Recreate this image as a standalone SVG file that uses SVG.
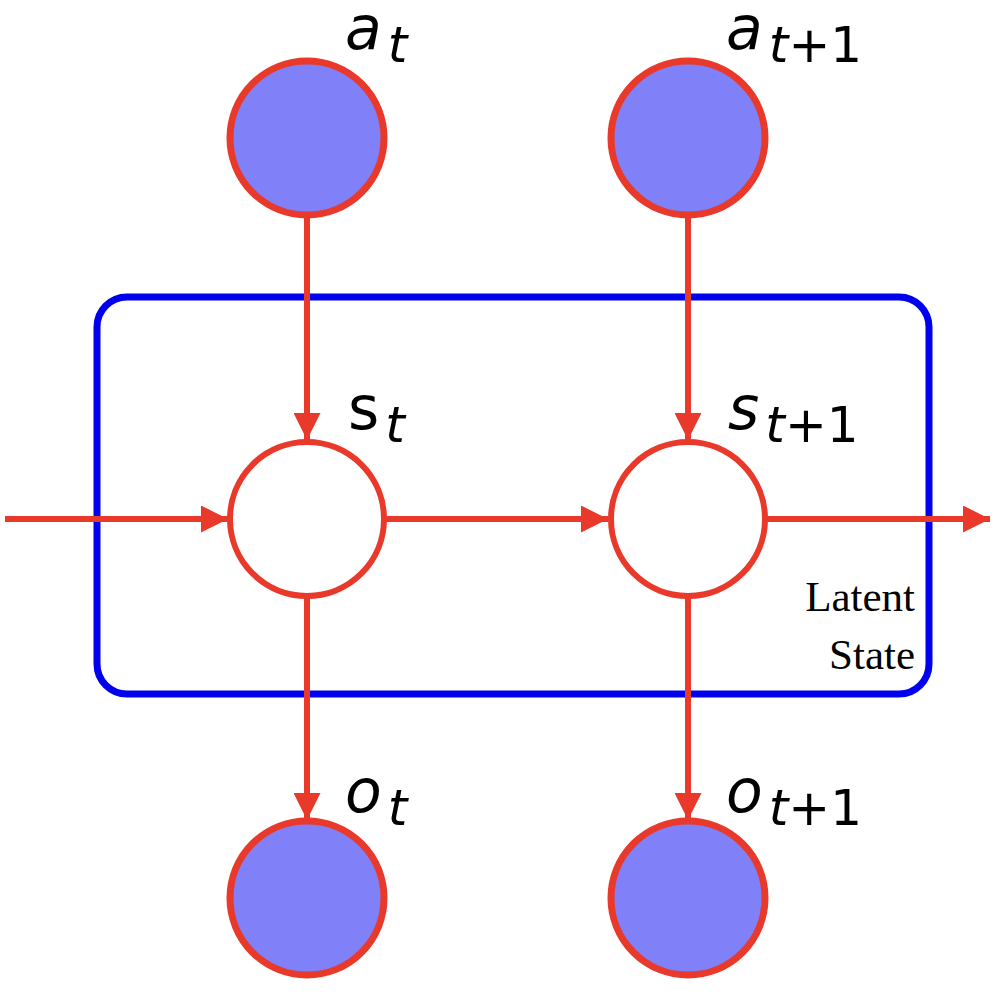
<svg xmlns="http://www.w3.org/2000/svg" width="997" height="996" viewBox="0 0 997 996">
<style>
.obs{fill:#8080F8;stroke:#E8392A;stroke-width:7}
.lat{fill:#fff;stroke:#E8392A;stroke-width:6}
.e{stroke:#E8392A;stroke-width:6;fill:none}
.m{font-family:"DejaVu Sans",sans-serif;font-style:italic;font-size:60px;fill:#000}
.sub{font-size:50px}
.up{font-style:normal}
.l{font-family:"Liberation Serif",serif;font-size:43px;fill:#000;text-anchor:end}
</style>
<defs><marker id="ah" viewBox="0 0 10 10" refX="10" refY="5" markerWidth="4.5" markerHeight="4.5" orient="auto" markerUnits="strokeWidth"><path d="M0,0L10,5L0,10z" fill="#E8392A"/></marker></defs>
<rect x="97" y="297" width="832" height="397" rx="30" fill="none" stroke="#0000EE" stroke-width="7"/>
<g id="connectors">
<line class="e" x1="5" y1="519" x2="228" y2="519" marker-end="url(#ah)"/>
<line class="e" x1="385" y1="519" x2="608" y2="519" marker-end="url(#ah)"/>
<line class="e" x1="766" y1="519" x2="990" y2="519" marker-end="url(#ah)"/>
<line class="e" x1="307" y1="216" x2="307" y2="440" marker-end="url(#ah)"/>
<line class="e" x1="688" y1="216" x2="688" y2="440" marker-end="url(#ah)"/>
<line class="e" x1="307" y1="597" x2="307" y2="820" marker-end="url(#ah)"/>
<line class="e" x1="688" y1="597" x2="688" y2="820" marker-end="url(#ah)"/>
</g>
<g id="at"><circle class="obs" cx="307" cy="138" r="77"/><text class="m" x="345" y="49">a<tspan class="sub" dx="6" dy="13">t</tspan></text></g>
<g id="at1"><circle class="obs" cx="688" cy="138" r="77"/><text class="m" x="726" y="49">a<tspan class="sub" dx="6" dy="13">t</tspan><tspan class="sub up">+1</tspan></text></g>
<g id="st"><circle class="lat" cx="307" cy="519" r="77"/><text class="m" x="348" y="429"><tspan class="up">s</tspan><tspan class="sub" dx="6" dy="13">t</tspan></text></g>
<g id="st1"><circle class="lat" cx="688" cy="519" r="77"/><text class="m" x="728" y="429">s<tspan class="sub" dx="6" dy="13">t</tspan><tspan class="sub up">+1</tspan></text></g>
<g id="ot"><circle class="obs" cx="307" cy="898" r="77"/><text class="m" x="345" y="812">o<tspan class="sub" dx="6" dy="13">t</tspan></text></g>
<g id="ot1"><circle class="obs" cx="688" cy="898" r="77"/><text class="m" x="726" y="812">o<tspan class="sub" dx="6" dy="13">t</tspan><tspan class="sub up">+1</tspan></text></g>
<g id="label"><text class="l" x="915" y="611">Latent</text><text class="l" x="915" y="669">State</text></g>
</svg>
